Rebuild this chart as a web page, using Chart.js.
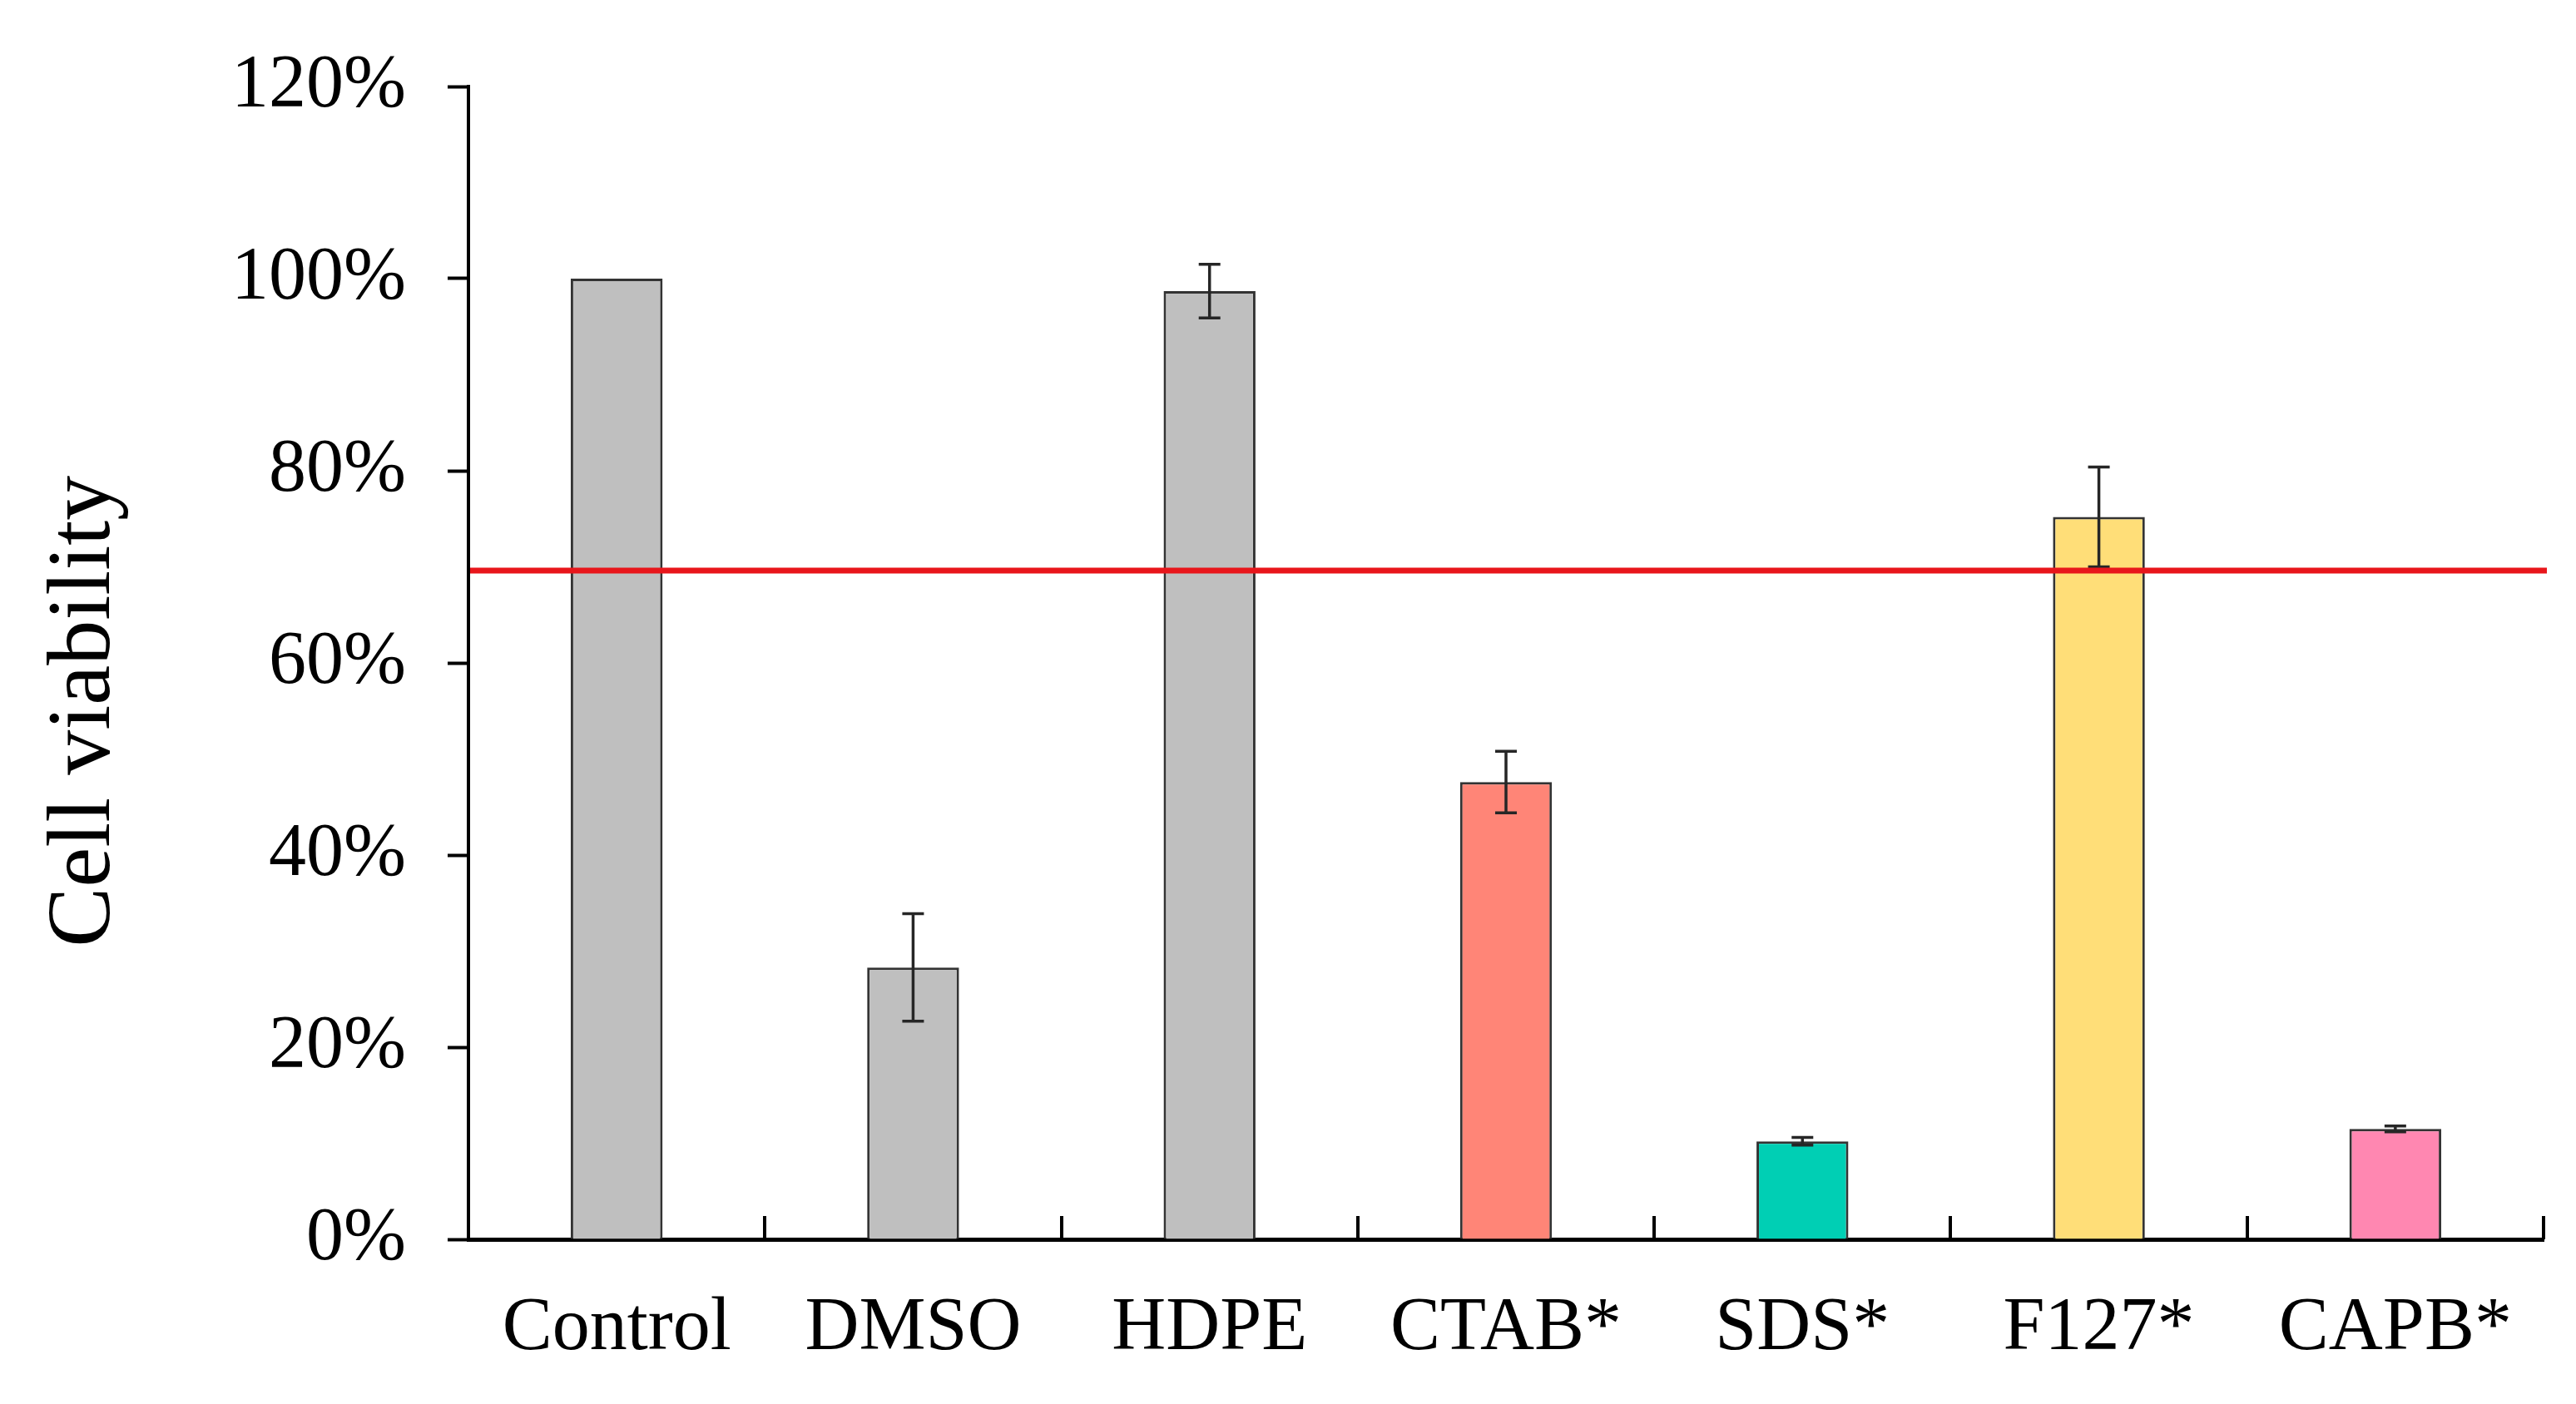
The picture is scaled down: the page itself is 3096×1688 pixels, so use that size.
<!DOCTYPE html>
<html>
<head>
<meta charset="utf-8">
<script src="https://cdn.jsdelivr.net/npm/chart.js@4.4.1/dist/chart.umd.min.js"></script>
<style>
  html, body { margin: 0; padding: 0; background: #ffffff; }
  #wrap { width: 3096px; height: 1688px; }
</style>
</head>
<body>
<div id="wrap"><canvas id="c" width="3096" height="1688"></canvas></div>
<script>
// ---- data ----
const categories = ["Control", "DMSO", "HDPE", "CTAB*", "SDS*", "F127*", "CAPB*"];
const viability = [100, 28.3, 98.7, 47.6, 10.2, 75.2, 11.5];      // %
const errors    = [0, 5.6, 2.8, 3.2, 0.4, 5.2, 0.3];              // % (±)
const barColors = ["#BFBFBF", "#BFBFBF", "#BFBFBF", "#FF8577", "#00CFB4", "#FFDE78", "#FF87B1"];
const yTicks = [0, 20, 40, 60, 80, 100, 120];
const threshold = 69.6;  // red reference line, %
const yTitle = "Cell viability";

const FONT = "'Liberation Serif', 'Times New Roman', serif";

const errorBarPlugin = {
  id: 'errorBars',
  afterDatasetsDraw(chart) {
    const meta = chart.getDatasetMeta(0);
    const y = chart.scales.y;
    const ctx = chart.ctx;
    ctx.save();
    ctx.strokeStyle = '#262626';
    ctx.lineWidth = 3.5;
    meta.data.forEach((el, i) => {
      const e = errors[i];
      if (!e) return;
      const v = viability[i];
      const yt = y.getPixelForValue(v + e);
      const yb = y.getPixelForValue(v - e);
      const x = el.x;
      const cap = 13;
      ctx.beginPath();
      ctx.moveTo(x, yt); ctx.lineTo(x, yb);
      ctx.moveTo(x - cap, yt); ctx.lineTo(x + cap, yt);
      ctx.moveTo(x - cap, yb); ctx.lineTo(x + cap, yb);
      ctx.stroke();
    });
    ctx.restore();
  }
};

const decorPlugin = {
  id: 'decor',
  afterDraw(chart) {
    const xs = chart.scales.x;
    const ctx = chart.ctx;
    const area = chart.chartArea;
    const step = xs.getPixelForValue(1) - xs.getPixelForValue(0);
    ctx.save();
    // inward category-boundary ticks
    ctx.strokeStyle = '#000';
    ctx.lineWidth = 4;
    for (let i = 1; i <= categories.length; i++) {
      const x = Math.round(xs.getPixelForValue(i) - step / 2);
      ctx.beginPath();
      ctx.moveTo(x, area.bottom);
      ctx.lineTo(x, area.bottom - 28);
      ctx.stroke();
    }
    // red threshold line
    const yy = chart.scales.y.getPixelForValue(threshold);
    ctx.strokeStyle = '#E8161B';
    ctx.lineWidth = 7;
    ctx.beginPath();
    ctx.moveTo(area.left + 2, yy);
    ctx.lineTo(area.right + 4, yy);
    ctx.stroke();
    // y-axis title (rotated), placed slightly below the vertical centre like the reference
    ctx.fillStyle = '#000';
    ctx.font = "108px " + FONT;
    ctx.textAlign = 'center';
    ctx.textBaseline = 'middle';
    ctx.translate(103, area.top + (area.bottom - area.top) * 0.542);
    ctx.rotate(-Math.PI / 2);
    ctx.fillText(yTitle, 0, 0);
    ctx.restore();
  }
};

new Chart(document.getElementById('c'), {
  type: 'bar',
  data: {
    labels: categories,
    datasets: [{
      data: viability,
      backgroundColor: barColors,
      borderColor: '#333333',
      borderWidth: 3,
      categoryPercentage: 1.0,
      barPercentage: 0.31
    }]
  },
  options: {
    responsive: false,
    animation: false,
    devicePixelRatio: 1,
    layout: { padding: { top: 99, right: 39, left: 0, bottom: 0 } },
    plugins: { legend: { display: false }, tooltip: { enabled: false } },
    scales: {
      x: {
        grid: { display: false, drawTicks: false },
        border: { display: true, color: '#000', width: 5 },
        ticks: { color: '#000', padding: 54, font: { family: FONT, size: 90 } },
        afterFit(scale) { scale.height = 198; }
      },
      y: {
        min: 0, max: 120,
        afterBuildTicks(scale) { scale.ticks = yTicks.map(v => ({ value: v })); },
        grid: { drawOnChartArea: false, drawTicks: true, tickLength: 25, tickColor: '#000', tickWidth: 4 },
        border: { display: true, color: '#000', width: 4 },
        ticks: {
          color: '#000', padding: 50,
          font: { family: FONT, size: 90 },
          callback: (v) => v + '%'
        },
        title: { display: false, text: yTitle },
        afterFit(scale) { scale.width = 563; }
      }
    }
  },
  plugins: [errorBarPlugin, decorPlugin]
});
</script>
</body>
</html>
